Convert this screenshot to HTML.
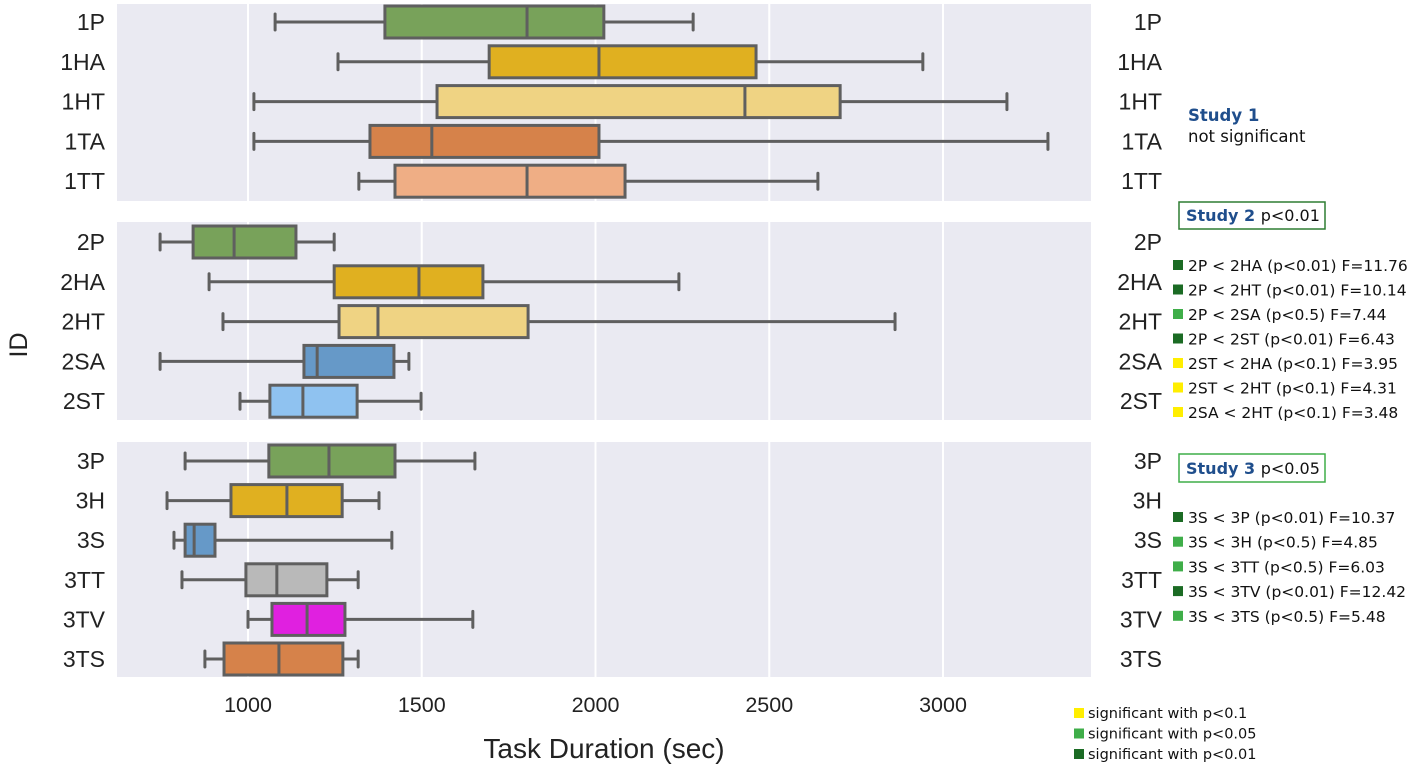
<!DOCTYPE html>
<html><head><meta charset="utf-8"><style>
html,body{margin:0;padding:0;background:#fff;}
svg{display:block;font-family:"Liberation Sans",sans-serif;}
.ann{font-family:"DejaVu Sans","Liberation Sans",sans-serif;}
</style></head><body>
<svg id="chart" width="1418" height="770" viewBox="0 0 1418 770" xmlns="http://www.w3.org/2000/svg">
<g id="panels"></g>
<g id="boxes"></g>
<g id="labels"></g>
<text x="0" y="0" transform="translate(27,345) rotate(-90)" text-anchor="middle" font-size="25" fill="#222">ID</text>
<text x="604" y="758" text-anchor="middle" font-size="28" fill="#222">Task Duration (sec)</text>
<g class="ann">
<text x="1188" y="121" font-size="16.5" font-weight="bold" fill="#1f4e8c">Study 1</text>
<text x="1188" y="121" dy="21" font-size="16.5" fill="#111">not significant</text>
</g>
<g class="ann">
<rect x="1179" y="202" width="146" height="27" fill="#fff" stroke="#2e7d32" stroke-width="1.5"/>
<text x="1186" y="221" font-size="16" font-weight="bold" fill="#1f4e8c">Study 2 <tspan font-weight="normal" fill="#111">p&lt;0.01</tspan></text>
</g>
<g class="ann">
<rect x="1179" y="454" width="146" height="28" fill="#fff" stroke="#3fae49" stroke-width="1.5"/>
<text x="1186" y="474" font-size="16" font-weight="bold" fill="#1f4e8c">Study 3 <tspan font-weight="normal" fill="#111">p&lt;0.05</tspan></text>
</g>
<g id="sig" class="ann"></g>
<g id="legend" class="ann"></g>
</svg>
<script>
const ticks = [1000, 1500, 2000, 2500, 3000];
const ids1 = ["1P","1HA","1HT","1TA","1TT"];
const stats1 = [[1078,1394,1803,2024,2281],[1259,1694,2010,2462,2942],[1017,1544,2430,2704,3184],[1017,1351,1529,2010,3302],[1319,1423,1803,2085,2640]];
const ids2 = ["2P","2HA","2HT","2SA","2ST"];
const stats2 = [[747,842,960,1138,1248],[888,1248,1492,1676,2240],[928,1262,1374,1806,2862],[747,1161,1199,1420,1463],[977,1063,1158,1314,1498]];
const ids3 = ["3P","3H","3S","3TT","3TV","3TS"];
const stats3 = [[819,1060,1233,1423,1653],[767,951,1112,1271,1377],[787,819,845,905,1414],[810,994,1083,1227,1317],[1000,1069,1170,1279,1647],[876,931,1089,1273,1317]];
const cols1 = ["#78a25a","#e0b020","#efd383","#d6824a","#efae85"];
const cols2 = ["#78a25a","#e0b020","#efd383","#6699c8","#8fc2f0"];
const cols3 = ["#78a25a","#e0b020","#6699c8","#b9b9b9","#e020e0","#d6824a"];
const sig2 = ["2P < 2HA (p<0.01) F=11.76","2P < 2HT (p<0.01) F=10.14","2P < 2SA (p<0.5) F=7.44","2P < 2ST (p<0.01) F=6.43","2ST < 2HA (p<0.1) F=3.95","2ST < 2HT (p<0.1) F=4.31","2SA < 2HT (p<0.1) F=3.48"];
const sigLvl2 = [2,2,1,2,0,0,0];
const sig3 = ["3S < 3P (p<0.01) F=10.37","3S < 3H (p<0.5) F=4.85","3S < 3TT (p<0.5) F=6.03","3S < 3TV (p<0.01) F=12.42","3S < 3TS (p<0.5) F=5.48"];
const sigLvl3 = [2,1,1,2,1];
const legendLabels = ["significant with p<0.1","significant with p<0.05","significant with p<0.01"];
const sigColors = ["#ffee00","#3fae49","#1b6b24"];

const NS="http://www.w3.org/2000/svg";
const X0=117, X1=1091;
function x(v){return 248+(v-1000)*0.3475;}
function mk(tag,attrs,parent){const e=document.createElementNS(NS,tag);for(const k in attrs)e.setAttribute(k,attrs[k]);parent.appendChild(e);return e;}
const gP=document.getElementById('panels'),gB=document.getElementById('boxes'),gL=document.getElementById('labels');
const panels=[{top:4,bot:201,y0:22,step:39.8,ids:ids1,stats:stats1,cols:cols1,name:'study-1'},
{top:222,bot:420,y0:242,step:39.8,ids:ids2,stats:stats2,cols:cols2,name:'study-2'},
{top:442,bot:677,y0:461,step:39.6,ids:ids3,stats:stats3,cols:cols3,name:'study-3'}];
panels.forEach(p=>{
  const r=mk('rect',{x:X0,y:p.top,width:X1-X0,height:p.bot-p.top,fill:'#eaeaf2'},gP);
  
  
  ticks.forEach(t=>{const l=mk('line',{x1:x(t),x2:x(t),y1:p.top,y2:p.bot,stroke:'#fff','stroke-width':2},gP);
    
    });
  p.ids.forEach((id,i)=>{
    const s=p.stats[i], cy=p.y0+i*p.step, h=32;
    const g=mk('g',{},gB);
    
    
    const st={stroke:'#5f5f5f','stroke-width':3};
    mk('line',Object.assign({x1:x(s[0]),x2:x(s[1]),y1:cy,y2:cy},st),g);
    mk('line',Object.assign({x1:x(s[3]),x2:x(s[4]),y1:cy,y2:cy},st),g);
    mk('line',Object.assign({x1:x(s[0]),x2:x(s[0]),y1:cy-8,y2:cy+8,'stroke-linecap':'round'},st),g);
    mk('line',Object.assign({x1:x(s[4]),x2:x(s[4]),y1:cy-8,y2:cy+8,'stroke-linecap':'round'},st),g);
    mk('rect',Object.assign({x:x(s[1]),y:cy-h/2,width:x(s[3])-x(s[1]),height:h,fill:p.cols[i]},st),g);
    mk('line',Object.assign({x1:x(s[2]),x2:x(s[2]),y1:cy-h/2,y2:cy+h/2},st),g);
    const t1=mk('text',{x:105,y:cy+8,'text-anchor':'end','font-size':23,fill:'#222'},gL);t1.textContent=id;
    
    
    const t2=mk('text',{x:1162,y:cy+8,'text-anchor':'end','font-size':23,fill:'#222'},gL);t2.textContent=id;
    
    
  });
});
ticks.forEach(t=>{const e=mk('text',{x:x(t),y:712,'text-anchor':'middle','font-size':21.5,fill:'#222'},gL);e.textContent=t;
  
  });
const gS=document.getElementById('sig');
function sigList(list,lv,y0,step){list.forEach((txt,i)=>{const y=y0+i*step;
  const g=mk('g',{},gS);
  
  
  mk('rect',{x:1173,y:y-5,width:10,height:10,fill:sigColors[lv[i]]},g);
  const t=mk('text',{x:1188,y:y+6,'font-size':15.5,fill:'#111'},g);t.textContent=txt;});}
sigList(sig2,sigLvl2,265,24.5);
sigList(sig3,sigLvl3,517,24.7);
const gG=document.getElementById('legend');
legendLabels.forEach((txt,i)=>{const y=713+i*20.5;
  const g=mk('g',{},gG);
  
  
  mk('rect',{x:1074,y:y-5,width:10,height:10,fill:sigColors[i]},g);
  const t=mk('text',{x:1088,y:y+5,'font-size':14.5,fill:'#111'},g);t.textContent=txt;});
</script>
</body></html>
